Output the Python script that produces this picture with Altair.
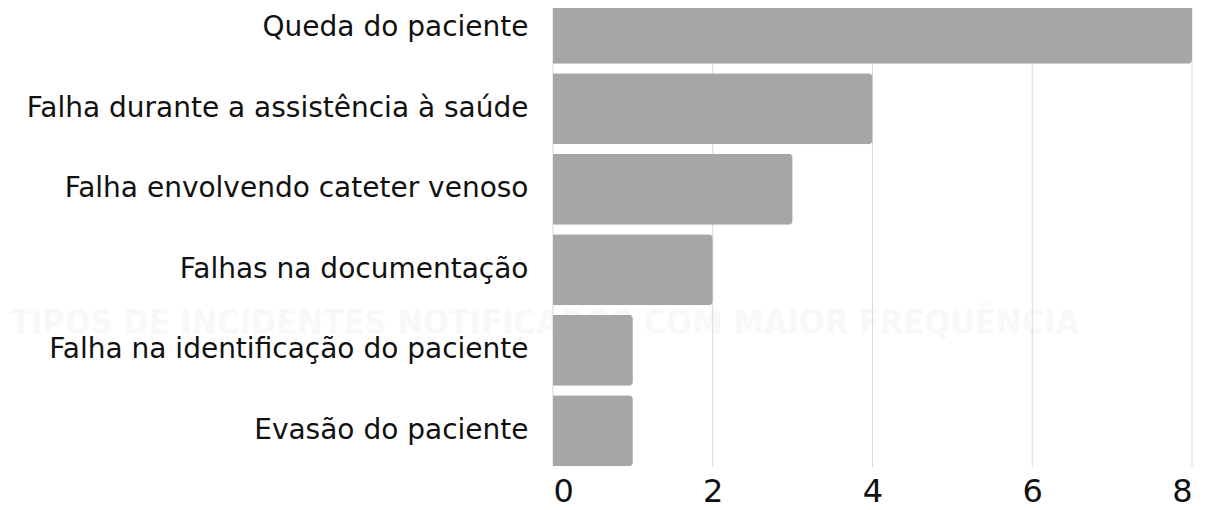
import altair as alt
import pandas as pd

categories = [
    "Queda do paciente",
    "Falha durante a assistência à saúde",
    "Falha envolvendo cateter venoso",
    "Falhas na documentação",
    "Falha na identificação do paciente",
    "Evasão do paciente",
]
values = [8, 4, 3, 2, 1, 1]
grid_ticks = [0, 2, 4, 6, 8]
watermark = ["TIPOS DE INCIDENTES NOTIFICADOS COM MAIOR FREQUÊNCIA"]

df = pd.DataFrame({"cat": categories, "val": values})
grid_df = pd.DataFrame({"g": grid_ticks})
wm_df = pd.DataFrame({"t": watermark})

W, H = 639, 459
FONT = "DejaVu Sans"

xscale = alt.Scale(domain=[0, 8], nice=False)
xaxis = alt.Axis(values=grid_ticks, grid=False, domain=False, ticks=False,
                 labelFont=FONT, labelFontSize=32, labelColor="#111111",
                 labelPadding=9, title=None, zindex=1)

wm = alt.Chart(wm_df).mark_text(
    align="left", baseline="alphabetic",
    font="Liberation Sans Narrow, Arial Narrow, DejaVu Sans Condensed, sans-serif",
    fontWeight="bold", fontSize=34, color="#f8f8f8"
).encode(text="t:N", x=alt.value(-543), y=alt.value(326))

grid = alt.Chart(grid_df).mark_rule(color="#d9d9d9", strokeWidth=1).encode(
    x=alt.X("g:Q", scale=xscale, axis=xaxis),
    y=alt.value(0), y2=alt.value(H),
)

bars = alt.Chart(df).mark_bar(color="#a6a6a6", cornerRadiusEnd=4).encode(
    x=alt.X("val:Q", scale=xscale, axis=xaxis),
    y=alt.Y("cat:N", sort=categories,
            scale=alt.Scale(range=[-20, 463], paddingInner=0.118, paddingOuter=0.059),
            axis=alt.Axis(domain=False, ticks=False, labelFont=FONT, labelFontSize=28,
                          labelColor="#111111", labelPadding=25, labelLimit=600,
                          title=None, zindex=1)),
)

chart = alt.layer(wm, grid, bars).properties(
    width=W, height=H,
    autosize=alt.AutoSizeParams(type="none"),
    padding={"left": 545, "top": 0, "right": 16, "bottom": 51},
).configure_view(stroke=None)

chart.save("out.html", embed_options={"renderer": "svg", "actions": False})
